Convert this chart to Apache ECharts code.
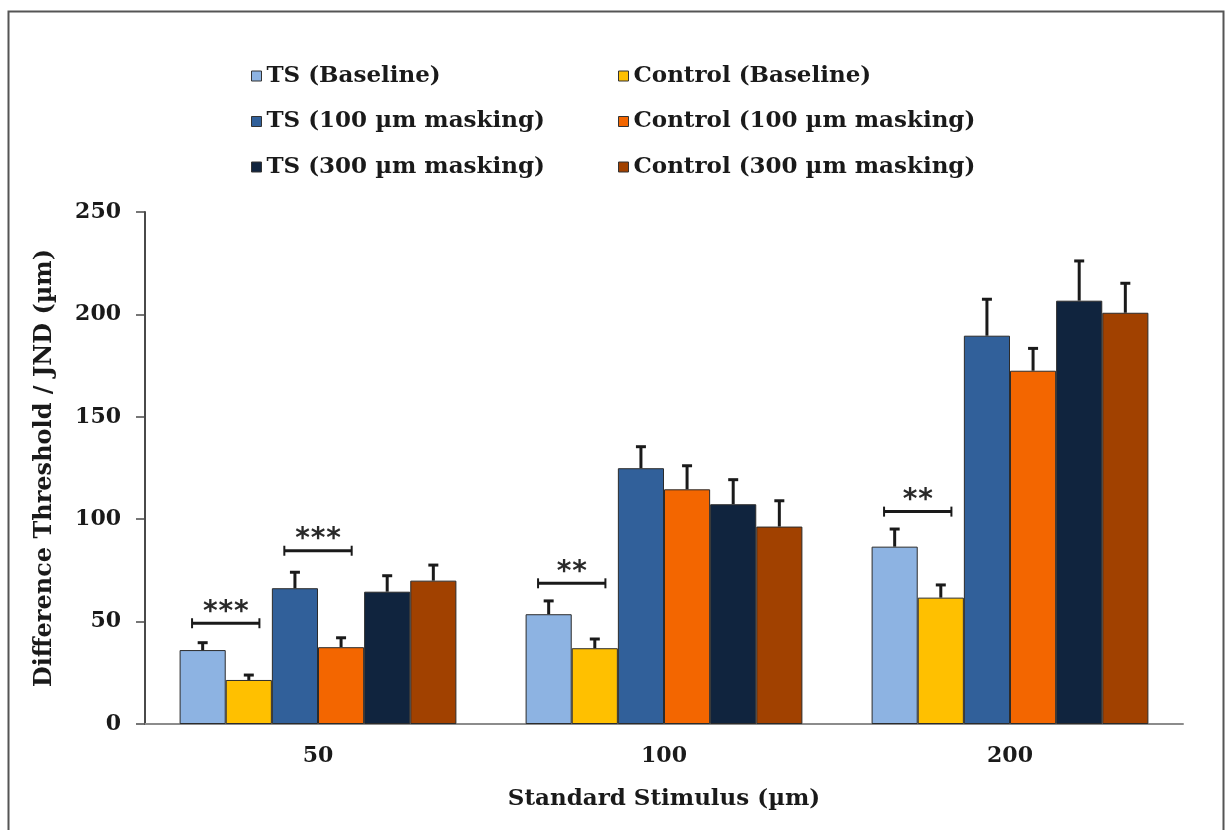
<!DOCTYPE html>
<html>
<head>
<meta charset="utf-8">
<script src="https://cdn.jsdelivr.net/npm/echarts@6/dist/echarts.min.js"></script>
<style>
  html, body { margin: 0; padding: 0; background: #fff; }
  #chart { width: 1228px; height: 830px; }
</style>
</head>
<body>
<div id="chart"></div>
<script>
// Standard stimulus amplitudes (µm)
const categories = ['50', '100', '200'];

// Mean difference thresholds (µm)
const tsBaseline = [36.1, 53.6, 86.6];
const ctrlBaseline = [21.5, 37.0, 61.7];
const ts100 = [66.3, 124.9, 189.6];
const ctrl100 = [37.5, 114.6, 172.5];
const ts300 = [64.6, 107.3, 206.7];
const ctrl300 = [70.0, 96.4, 200.8];

// Upper error (SEM) for each bar
const errTsBaseline = [3.6, 6.5, 8.6];
const errCtrlBaseline = [2.4, 4.5, 6.2];
const errTs100 = [7.8, 10.5, 17.8];
const errCtrl100 = [4.6, 11.5, 10.9];
const errTs300 = [7.8, 12.0, 19.4];
const errCtrl300 = [7.6, 12.6, 14.4];

// Significance brackets: category, first and second bar index, height, stars
const sigCategory = [0, 0, 1, 2];
const sigFirstBar = [0, 2, 0, 0];
const sigSecondBar = [1, 3, 1, 1];
const sigHeight = [49.2, 84.6, 68.7, 103.7];
const sigStars = ['***', '***', '**', '**'];

const yTicks = { min: 0, max: 250, interval: 50 };

const seriesNames = [
  'TS (Baseline)', 'Control (Baseline)',
  'TS (100 µm masking)', 'Control (100 µm masking)',
  'TS (300 µm masking)', 'Control (300 µm masking)'
];
const seriesValues = [tsBaseline, ctrlBaseline, ts100, ctrl100, ts300, ctrl300];
const seriesErrors = [errTsBaseline, errCtrlBaseline, errTs100, errCtrl100, errTs300, errCtrl300];
const seriesColors = ['#8db3e2', '#ffc000', '#31609a', '#f36600', '#10243e', '#a14100'];

const FONT = 'DejaVu Serif';
const INK = '#1a1a1a';
const GROUP_FILL = 0.8;       // share of the band occupied by the bar group
const NBARS = seriesNames.length;

function barOffset(api, idx) {
  const band = api.size([1, 0])[0];
  const bw = band * GROUP_FILL / NBARS;
  return { bw: bw, dx: (idx - (NBARS - 1) / 2) * bw };
}

function errorRenderer(idx) {
  return function (params, api) {
    const cat = api.value(0), v = api.value(1), e = api.value(2);
    const o = barOffset(api, idx);
    const p = api.coord([cat, v]);
    const top = api.coord([cat, v + e])[1];
    const x = p[0] + o.dx;
    const st = { stroke: INK, lineWidth: 3 };
    return {
      type: 'group',
      children: [
        { type: 'line', shape: { x1: x, y1: p[1], x2: x, y2: top }, style: st },
        { type: 'line', shape: { x1: x - 5, y1: top, x2: x + 5, y2: top }, style: st }
      ]
    };
  };
}

function sigRenderer(params, api) {
  const cat = api.value(0), a = api.value(1), b = api.value(2), h = api.value(3);
  const stars = sigStars[params.dataIndex];
  const oa = barOffset(api, a), ob = barOffset(api, b);
  const p = api.coord([cat, h]);
  const mid = p[0] + (oa.dx + ob.dx) / 2;
  const half = oa.bw * 0.73;
  const y = p[1];
  const st = { stroke: INK, lineWidth: 3 };
  const children = [
    { type: 'line', shape: { x1: mid - half, y1: y, x2: mid + half, y2: y }, style: st },
    { type: 'line', shape: { x1: mid - half, y1: y - 5, x2: mid - half, y2: y + 5 }, style: { stroke: INK, lineWidth: 2 } },
    { type: 'line', shape: { x1: mid + half, y1: y - 5, x2: mid + half, y2: y + 5 }, style: { stroke: INK, lineWidth: 2 } }
  ];
  const n = stars.length;
  for (let k = 0; k < n; k++) {
    children.push({
      type: 'text',
      style: {
        text: '*', x: mid + (k - (n - 1) / 2) * 15.5, y: y + 3,
        align: 'center', verticalAlign: 'bottom',
        font: 'bold 28px "DejaVu Sans"', fill: '#2a2a2a'
      }
    });
  }
  return { type: 'group', children: children };
}

const series = [];
seriesNames.forEach(function (name, i) {
  series.push({
    name: name,
    type: 'bar',
    data: seriesValues[i],
    barGap: '0%',
    barCategoryGap: '20%',
    itemStyle: { color: seriesColors[i], borderColor: '#2b2b2b', borderWidth: 1 },
    z: 2
  });
});
seriesNames.forEach(function (name, i) {
  series.push({
    type: 'custom',
    renderItem: errorRenderer(i),
    data: seriesValues[i].map(function (v, c) { return [c, v, seriesErrors[i][c]]; }),
    encode: { x: 0, y: 1 },
    z: 3,
    silent: true
  });
});
series.push({
  type: 'custom',
  renderItem: sigRenderer,
  data: sigCategory.map(function (c, k) { return [c, sigFirstBar[k], sigSecondBar[k], sigHeight[k]]; }),
  encode: { x: 0, y: 3 },
  z: 4,
  silent: true
});

const legendText = { fontFamily: FONT, fontWeight: 'bold', fontSize: 23, color: INK, lineHeight: 26 };
const legendCommon = {
  orient: 'vertical', icon: 'rect', itemWidth: 10, itemHeight: 10, itemGap: 19.5,
  textStyle: legendText, selectedMode: false,
  itemStyle: { borderColor: '#333', borderWidth: 1 }
};

const chart = echarts.init(document.getElementById('chart'), null, { renderer: 'canvas' });
chart.setOption({
  backgroundColor: '#ffffff',
  animation: false,
  graphic: [{
    type: 'rect', left: 6, top: 9, z: 0,
    shape: { width: 1215, height: 840 },
    style: { fill: 'none', stroke: '#555', lineWidth: 2 }
  }],
  legend: [
    Object.assign({ left: 246, top: 58, data: [seriesNames[0], seriesNames[2], seriesNames[4]] }, legendCommon),
    Object.assign({ left: 613, top: 58, data: [seriesNames[1], seriesNames[3], seriesNames[5]] }, legendCommon)
  ],
  grid: { left: 145, right: 45, top: 212, bottom: 106 },
  xAxis: {
    type: 'category',
    data: categories,
    name: 'Standard Stimulus (µm)',
    nameLocation: 'middle',
    nameGap: 64,
    nameTextStyle: { fontFamily: FONT, fontWeight: 'bold', fontSize: 23, color: INK },
    axisLine: { lineStyle: { color: '#8c8c8c', width: 2 } },
    axisTick: { show: false },
    axisLabel: { fontFamily: FONT, fontWeight: 'bold', fontSize: 22, color: INK, margin: 21 },
    splitLine: { show: false }
  },
  yAxis: {
    type: 'value',
    min: yTicks.min, max: yTicks.max, interval: yTicks.interval,
    name: 'Difference Threshold / JND (µm)',
    nameLocation: 'middle',
    nameGap: 88,
    nameTextStyle: { fontFamily: FONT, fontWeight: 'bold', fontSize: 24, color: INK },
    axisLine: { show: true, lineStyle: { color: '#4a4a4a', width: 2 } },
    axisTick: { show: true, length: 9, lineStyle: { color: '#4a4a4a', width: 1.5 } },
    axisLabel: { fontFamily: FONT, fontWeight: 'bold', fontSize: 22, color: INK, margin: 24 },
    splitLine: { show: false }
  },
  series: series
});
</script>
</body>
</html>
